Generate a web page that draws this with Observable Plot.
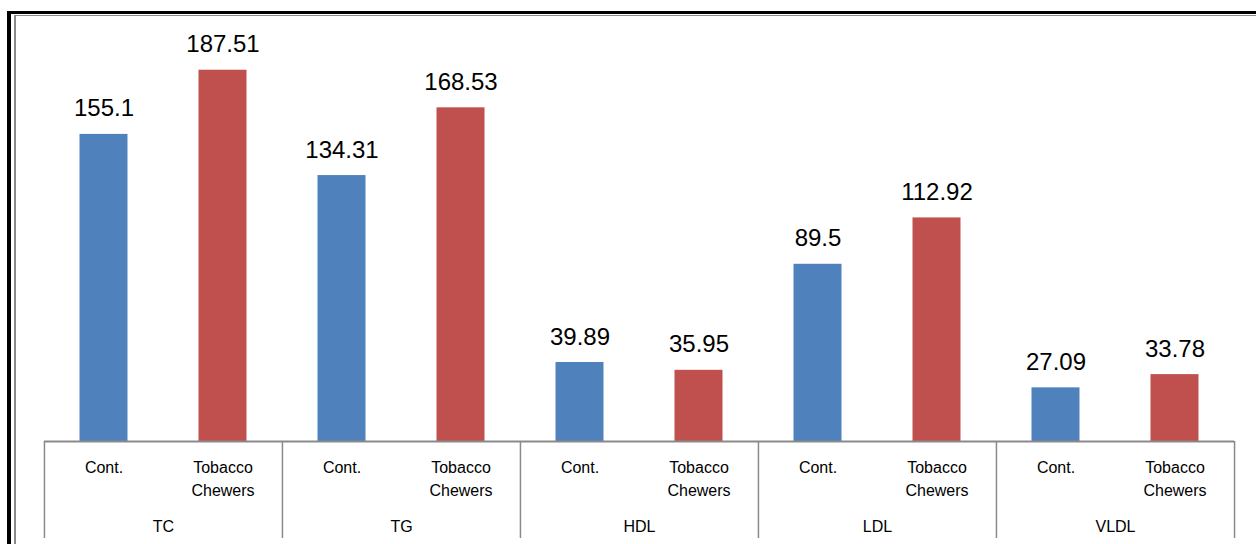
<!DOCTYPE html>
<html>
<head>
<meta charset="utf-8">
<script src="https://cdn.jsdelivr.net/npm/d3@7"></script>
<script src="https://cdn.jsdelivr.net/npm/@observablehq/plot@0.6"></script>
<style>
  html, body { margin: 0; padding: 0; background: #fff; }
  #wrap { position: relative; width: 1256px; height: 544px; overflow: hidden; }
  #wrap svg { position: absolute; left: 0; top: 0; }
  .rule-black-top { position: absolute; left: 7px; top: 11px; right: 0; height: 3px; background: #000; }
  .rule-black-left { position: absolute; left: 7px; top: 11px; bottom: 0; width: 3.5px; background: #000; }
  .rule-gray-top { position: absolute; left: 14px; top: 14.5px; right: 0; height: 1.5px; background: #8a8a8a; }
  .rule-gray-left { position: absolute; left: 14px; top: 14.5px; bottom: 0; width: 1.5px; background: #8a8a8a; }
</style>
</head>
<body>
<div id="wrap">
  <div class="rule-black-top"></div>
  <div class="rule-black-left"></div>
  <div class="rule-gray-top"></div>
  <div class="rule-gray-left"></div>
</div>
<script>
// Lipid profile: control subjects vs tobacco chewers
const parameters = ["TC", "TG", "HDL", "LDL", "VLDL"];
const subjects = ["Cont.", "Tobacco Chewers"];
const controlValues = [155.1, 134.31, 39.89, 89.5, 27.09];
const chewerValues = [187.51, 168.53, 35.95, 112.92, 33.78];
const subjectColors = ["#4F81BD", "#C0504D"];

const rows = parameters.flatMap((p, i) => [
  {param: p, subject: subjects[0], value: controlValues[i]},
  {param: p, subject: subjects[1], value: chewerValues[i]}
]);

const tickLabel = s => s.replace(" ", "\n");
const halfStep = 1191 / parameters.length / 4; // half of one sub-band

const chart = Plot.plot({
  width: 1256,
  height: 544,
  marginLeft: 43,
  marginRight: 22,
  marginTop: 45,
  marginBottom: 103,
  style: {background: "transparent", fontFamily: "'Liberation Sans', Arial, sans-serif", color: "#000"},
  fx: {domain: parameters, padding: 0, axis: null},
  x: {domain: subjects, padding: 0, axis: null},
  y: {domain: [0, 200], axis: null},
  color: {domain: subjects, range: subjectColors},
  marks: [
    Plot.barY(rows, {fx: "param", x: "subject", y: "value", fill: "subject", insetLeft: 35.5, insetRight: 35.5}),
    Plot.text(rows, {fx: "param", x: "subject", y: "value", text: d => String(d.value),
      lineAnchor: "bottom", dy: -18, fontSize: 24, fill: "#000"}),
    // category axis: baseline, group dividers and labels
    Plot.ruleY([0], {stroke: "#8a8a8a", strokeWidth: 2}),
    Plot.ruleX(parameters, {fx: d => d, x: () => subjects[0], y1: 0, y2: -49, dx: -halfStep, stroke: "#8a8a8a", strokeWidth: 1.5}),
    Plot.ruleX(parameters.slice(-1), {fx: d => d, x: () => subjects[1], y1: 0, y2: -49, dx: halfStep, stroke: "#8a8a8a", strokeWidth: 1.5}),
    Plot.text(rows, {fx: "param", x: "subject", frameAnchor: "bottom", text: d => tickLabel(d.subject),
      lineAnchor: "top", dy: 15, lineHeight: 1.44, fontSize: 16, fill: "#000"}),
    Plot.text(parameters, {fx: d => d, frameAnchor: "bottom", text: d => d,
      dy: 90, fontSize: 16, fill: "#000"})
  ]
});

document.getElementById("wrap").prepend(chart);
</script>
</body>
</html>
